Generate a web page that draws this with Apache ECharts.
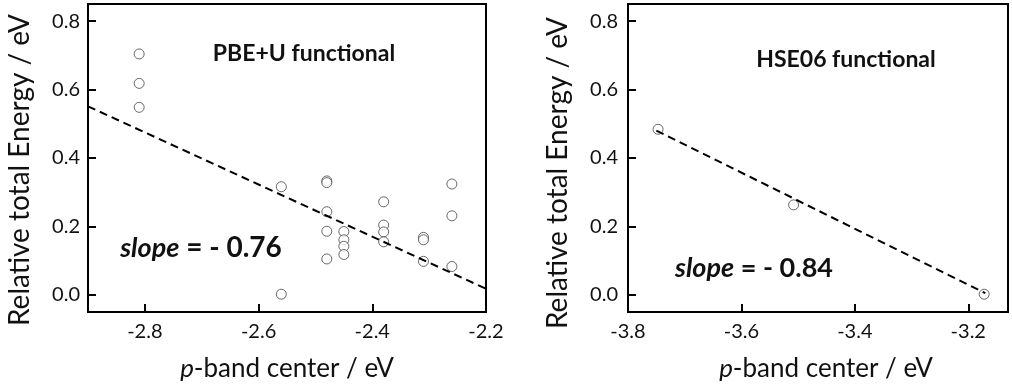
<!DOCTYPE html>
<html>
<head>
<meta charset="utf-8">
<script src="https://cdn.jsdelivr.net/npm/echarts@6/dist/echarts.min.js"></script>
<style>html,body{margin:0;padding:0;background:#fff;}#c{width:1012px;height:390px;}</style>
</head>
<body>
<div id="c"></div>
<script>
// PBE+U functional (left panel)
const leftX = [-2.81,-2.81,-2.81,-2.56,-2.56,-2.48,-2.48,-2.48,-2.48,-2.48,-2.45,-2.45,-2.45,-2.45,-2.38,-2.38,-2.38,-2.38,-2.31,-2.31,-2.31,-2.26,-2.26,-2.26];
const leftY = [0.704,0.618,0.548,0.316,0.002,0.333,0.328,0.243,0.186,0.105,0.185,0.161,0.142,0.118,0.272,0.204,0.184,0.155,0.168,0.161,0.098,0.324,0.231,0.083];
const leftFitX = [-2.9,-2.2];
const leftFitY = [0.551,0.018];
// HSE06 functional (right panel)
const rightX = [-3.747,-3.508,-3.172];
const rightY = [0.484,0.263,0.002];
const rightFitX = [-3.75,-3.17];
const rightFitY = [0.48,0.005];
// ticks
const leftXTicks = [-2.8,-2.6,-2.4,-2.2];
const rightXTicks = [-3.8,-3.6,-3.4,-3.2];
const yTicks = [0,0.2,0.4,0.6,0.8];
const yTitle = 'Relative total Energy / eV';
const xTitle = '{i|p}-band center / eV';

const FONT = 'Lato';
const zip = (a,b) => a.map((v,i)=>[v,b[i]]);

function xAxisCfg(gi, min, max, ticks){
  return {
    type:'value', gridIndex:gi, min:min, max:max,
    axisLine:{show:true, onZero:false, lineStyle:{color:'#000', width:2}},
    axisTick:{show:true, inside:true, length:8, customValues:ticks, lineStyle:{color:'#000', width:2}},
    axisLabel:{customValues:ticks, color:'#111', fontFamily:FONT, fontSize:20, margin:10,
      formatter:v=>v.toFixed(1)},
    splitLine:{show:false}
  };
}
function yAxisCfg(gi, margin){
  return {
    type:'value', gridIndex:gi, min:-0.05, max:0.85,
    axisLine:{show:true, onZero:false, lineStyle:{color:'#000', width:2}},
    axisTick:{show:true, inside:true, length:8, customValues:yTicks, lineStyle:{color:'#000', width:2}},
    axisLabel:{customValues:yTicks, color:'#111', fontFamily:FONT, fontSize:20, margin:margin,
      formatter:v=>v.toFixed(1)},
    splitLine:{show:false}
  };
}
const scatterStyle = {color:'#fff', borderColor:'#444', borderWidth:1};
const lineStyle = {color:'#000', width:2, type:[8,5]};

function txt(x,y,text,size,weight,rot,rich){
  return {type:'text', x:x, y:y, rotation:rot||0, z:10,
    style:{text:text, x:0, y:0, fontFamily:FONT, fontSize:size, fontWeight:weight||'normal', fill:'#111',
      align:'center', verticalAlign:'middle', rich:rich}};
}
const titleRich = {i:{fontStyle:'italic', fontFamily:FONT, fontSize:26, fill:'#111'}};
const slopeRich = {s:{fontStyle:'italic', fontWeight:'bold', fontFamily:FONT, fontSize:27, fill:'#111'}};

const chart = echarts.init(document.getElementById('c'), null, {renderer:'canvas'});
chart.setOption({
  animation:false,
  backgroundColor:'#fff',
  grid:[
    {left:88, top:4, width:398, height:308, show:true, borderColor:'#000', borderWidth:2},
    {left:628, top:4, width:380, height:308, show:true, borderColor:'#000', borderWidth:2}
  ],
  xAxis:[xAxisCfg(0,-2.9,-2.2,leftXTicks), xAxisCfg(1,-3.8,-3.13,rightXTicks)],
  yAxis:[yAxisCfg(0,8), yAxisCfg(1,10)],
  series:[
    {type:'scatter', xAxisIndex:0, yAxisIndex:0, data:zip(leftX,leftY), symbol:'circle', symbolSize:10, itemStyle:scatterStyle, z:2},
    {type:'line', xAxisIndex:0, yAxisIndex:0, data:zip(leftFitX,leftFitY), showSymbol:false, lineStyle:lineStyle, z:3},
    {type:'scatter', xAxisIndex:1, yAxisIndex:1, data:zip(rightX,rightY), symbol:'circle', symbolSize:10, itemStyle:scatterStyle, z:2},
    {type:'line', xAxisIndex:1, yAxisIndex:1, data:zip(rightFitX,rightFitY), showSymbol:false, lineStyle:lineStyle, z:3}
  ],
  graphic:[
    txt(20,170,yTitle,28,'normal',Math.PI/2),
    txt(558,173,yTitle,28,'normal',Math.PI/2),
    txt(287,369,xTitle,26,'normal',0,titleRich),
    txt(826,369,xTitle,26,'normal',0,titleRich),
    txt(304,54,'PBE+U functional',23,'bold'),
    txt(846,60,'HSE06 functional',23,'bold'),
    txt(201,248,'{s|slope} = - 0.76',28,'bold',0,slopeRich),
    txt(754,268,'{s|slope} = - 0.84',27,'bold',0,slopeRich)
  ]
});
</script>
</body>
</html>
